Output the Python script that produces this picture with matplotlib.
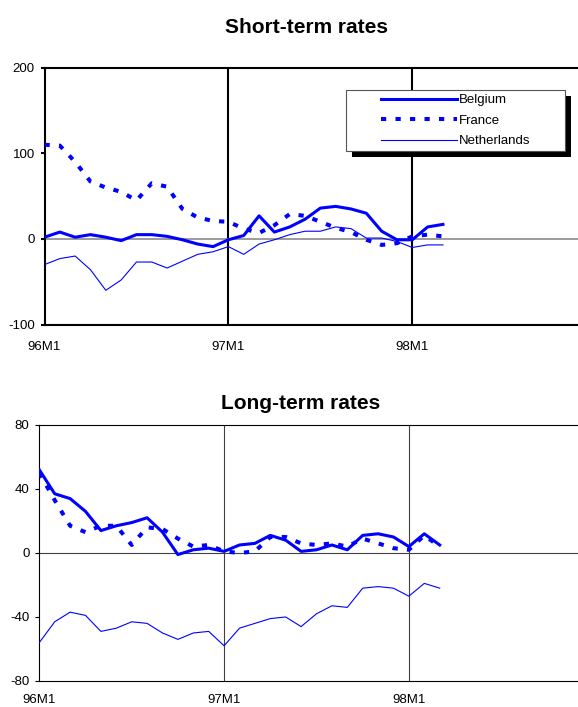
import numpy as np
import matplotlib
matplotlib.use('Agg')
import matplotlib.pyplot as plt
import matplotlib.patheffects as pe
from matplotlib.patches import Rectangle

plt.rcParams['font.family'] = ['Liberation Sans', 'DejaVu Sans']
plt.rcParams['axes.unicode_minus'] = False

# monthly categories 96M1 .. 98M12, data runs to 98M3
months = [f'{y}M{m}' for y in (96, 97, 98) for m in range(1, 13)]
tick_labels = ['96M1', '97M1', '98M1']

# spreads vs Germany, basis points
short_belgium = [2, 8, 2, 5, 2, -2, 5, 5, 3, -1, -6, -9, -1, 4, 27, 8, 14, 23, 36, 38, 35, 30, 9, -1, -1, 14, 17]
short_france = [110, 109, 90, 67, 60, 55, 45, 65, 61, 35, 25, 21, 20, 12, 7, 16, 29, 27, 20, 13, 8, -1, -7, -5, 3, 5, 3]
short_netherlands = [-30, -23, -20, -36, -60, -48, -27, -27, -34, -26, -18, -15, -9, -18, -6, -1, 5, 9, 9, 14, 12, 1, 1, -3, -10, -7, -7]

long_belgium = [52, 37, 34, 26, 14, 17, 19, 22, 13, -1, 2, 3, 1, 5, 6, 11, 8, 1, 2, 5, 2, 11, 12, 10, 4, 12, 5]
long_france = [50, 33, 17, 13, 17, 17, 5, 16, 15, 9, 4, 5, 1, 0, 1, 10, 10, 6, 5, 6, 4, 9, 6, 3, 2, 11, 4]
long_netherlands = [-56, -43, -37, -39, -49, -47, -43, -44, -50, -54, -50, -49, -58, -47, -44, -41, -40, -46, -38, -33, -34, -22, -21, -22, -27, -19, -22]

blue = '#0000FF'

fig = plt.figure(figsize=(5.78, 7.07), dpi=100)


def draw_panel(ax, bel, fra, ned, yticks, heavy, xpad):
    x = np.arange(len(bel))
    frame_lw = 1.5 if heavy else 0.8
    grid_col = 'black' if heavy else '#404040'
    zero_col = '#808080' if heavy else '#404040'
    for x0 in (12, 24):
        ax.axvline(x0, color=grid_col, lw=frame_lw, zorder=1)
    ax.axhline(0, color=zero_col, lw=1.1 if heavy else 0.8, zorder=1)
    ax.plot(x, ned, color=blue, lw=0.8, label='Netherlands', zorder=3)
    ax.plot(x, fra, color=blue, lw=2.9, ls=(0, (1.3, 2.3)), label='France', zorder=3)
    ax.plot(x, bel, color=blue, lw=2.2, label='Belgium', zorder=4)
    ax.set_xlim(0, 35)
    ax.set_ylim(yticks[0], yticks[-1])
    ax.set_yticks(yticks)
    ax.set_xticks([0, 12, 24])
    ax.set_xticklabels(tick_labels)
    ax.tick_params(axis='x', length=0, pad=xpad, labelsize=9.5)
    ax.tick_params(axis='y', length=3, width=frame_lw, pad=4, labelsize=9.5)
    for s in ('left', 'bottom', 'top'):
        ax.spines[s].set_linewidth(frame_lw)
        ax.spines[s].set_color('black')
    ax.spines['right'].set_visible(False)


ax1 = fig.add_axes([0.077, 0.541, 0.928, 0.3632])
draw_panel(ax1, short_belgium, short_france, short_netherlands, [-100, 0, 100, 200], True, 12)

ax2 = fig.add_axes([0.068, 0.0368, 0.9325, 0.3621])
draw_panel(ax2, long_belgium, long_france, long_netherlands, [-80, -40, 0, 40, 80], False, 9.5)

fig.text(0.5306, 0.9529, 'Short-term rates', ha='center', va='baseline',
         fontsize=15, fontweight='bold')
fig.text(0.5204, 0.4215, 'Long-term rates', ha='center', va='baseline',
         fontsize=15, fontweight='bold')

# legend box with hard black shadow
box = Rectangle((0.563, 0.674), 0.407, 0.240, transform=ax1.transAxes,
                facecolor='white', edgecolor='#555555', lw=0.8, zorder=6)
box.set_path_effects([pe.SimplePatchShadow(offset=(4.3, -4.3), shadow_rgbFace='black', alpha=1),
                      pe.Normal()])
ax1.add_patch(box)
handles, labels = ax1.get_legend_handles_labels()
order = [2, 1, 0]
leg = ax1.legend([handles[i] for i in order], [labels[i] for i in order],
                 loc='center', bbox_to_anchor=(0.7665, 0.794), frameon=False,
                 fontsize=9.5, handlelength=5.7, handletextpad=0.15,
                 labelspacing=0.62, borderpad=0)
leg.set_zorder(7)

fig.savefig('out.png', dpi=100)
